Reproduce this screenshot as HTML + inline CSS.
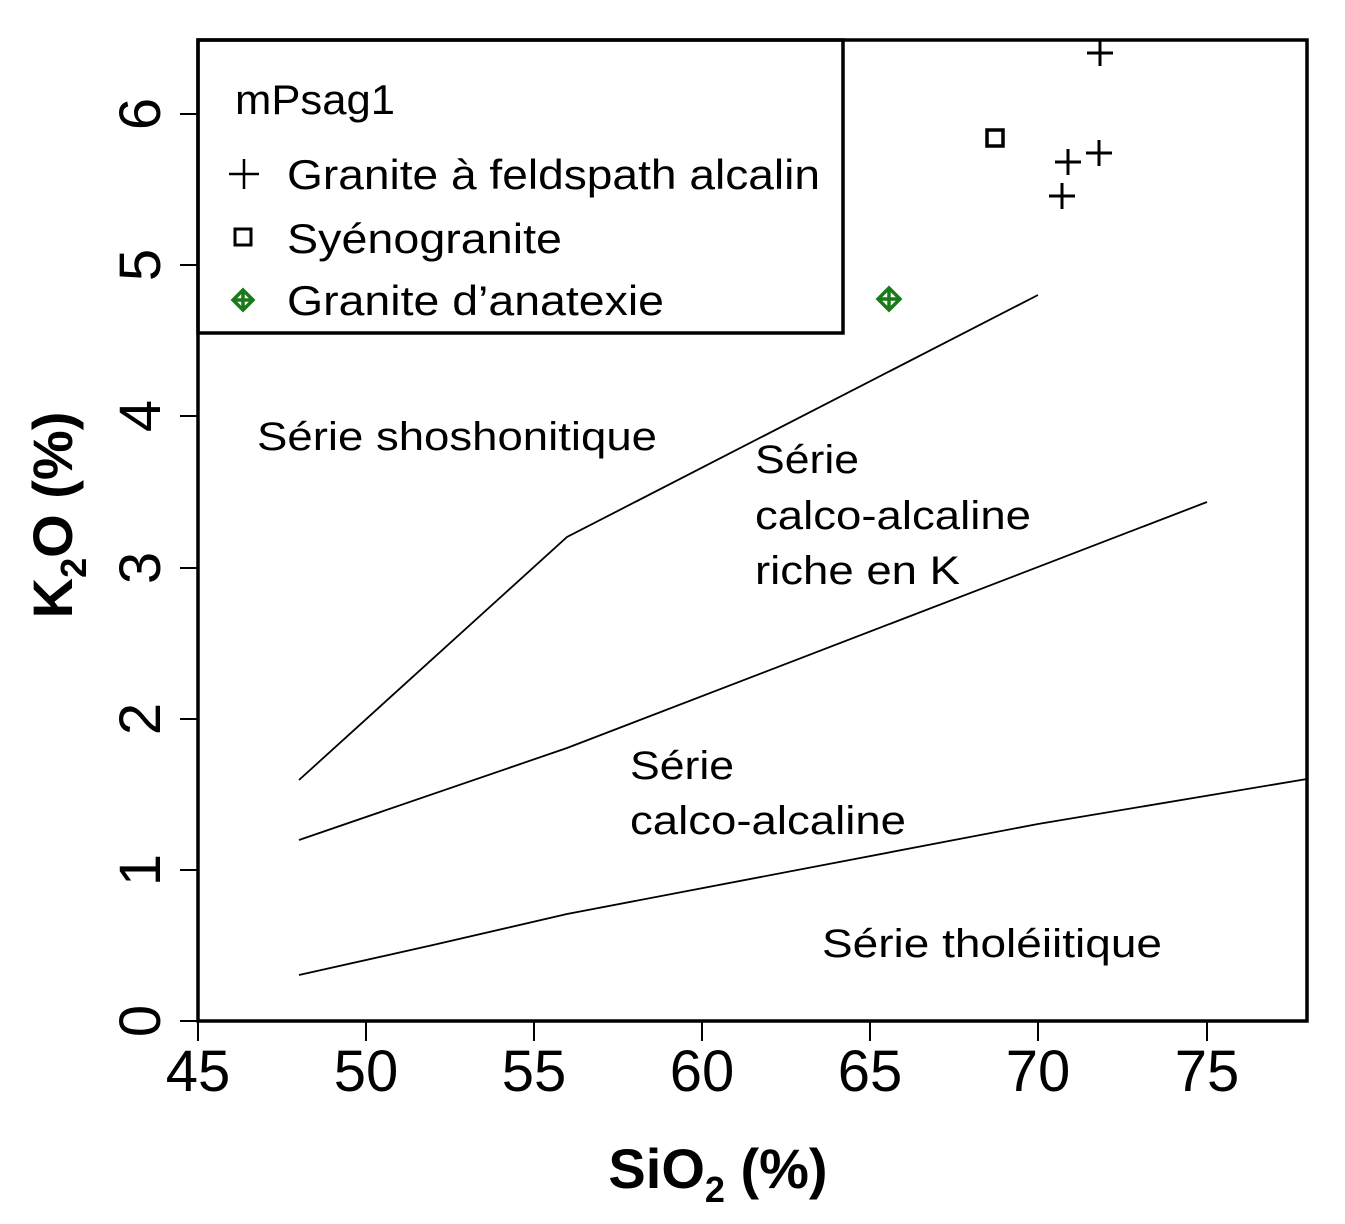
<!DOCTYPE html>
<html><head><meta charset="utf-8"><style>
html,body{margin:0;padding:0;background:#fff;}
svg{display:block;}
text{font-family:"Liberation Sans",Arial,sans-serif;fill:#000;}
</style></head><body>
<svg width="1345" height="1224" viewBox="0 0 1345 1224" xmlns="http://www.w3.org/2000/svg">
<rect x="198" y="40" width="1109" height="981" fill="none" stroke="#000" stroke-width="3.5"/>
<g stroke="#000" stroke-width="2">
<line x1="198" y1="1021" x2="198" y2="1041"/><line x1="366" y1="1021" x2="366" y2="1041"/>
<line x1="534" y1="1021" x2="534" y2="1041"/><line x1="702" y1="1021" x2="702" y2="1041"/>
<line x1="870" y1="1021" x2="870" y2="1041"/><line x1="1038" y1="1021" x2="1038" y2="1041"/>
<line x1="1207" y1="1021" x2="1207" y2="1041"/>
<line x1="180" y1="1021" x2="198" y2="1021"/><line x1="180" y1="870" x2="198" y2="870"/>
<line x1="180" y1="719" x2="198" y2="719"/><line x1="180" y1="568" x2="198" y2="568"/>
<line x1="180" y1="416" x2="198" y2="416"/><line x1="180" y1="265" x2="198" y2="265"/>
<line x1="180" y1="114" x2="198" y2="114"/>
</g>
<g font-size="58" text-anchor="middle">
<text x="198" y="1091">45</text><text x="366" y="1091">50</text><text x="534" y="1091">55</text>
<text x="702" y="1091">60</text><text x="870" y="1091">65</text><text x="1038" y="1091">70</text>
<text x="1207" y="1091">75</text>
</g>
<g font-size="58" text-anchor="middle">
<text transform="translate(160,1021) rotate(-90)">0</text>
<text transform="translate(160,870) rotate(-90)">1</text>
<text transform="translate(160,719) rotate(-90)">2</text>
<text transform="translate(160,568) rotate(-90)">3</text>
<text transform="translate(160,416) rotate(-90)">4</text>
<text transform="translate(160,265) rotate(-90)">5</text>
<text transform="translate(160,114) rotate(-90)">6</text>
</g>
<text x="718" y="1188" font-size="56" font-weight="bold" text-anchor="middle">SiO<tspan font-size="36" dy="14">2</tspan><tspan dy="-14"> (%)</tspan></text>
<text transform="translate(72,515) rotate(-90)" font-size="56" font-weight="bold" text-anchor="middle">K<tspan font-size="36" dy="14">2</tspan><tspan dy="-14">O (%)</tspan></text>
<g fill="none" stroke="#000" stroke-width="1.8">
<polyline points="299,780 567,537 1038,295"/>
<polyline points="299,840 567,748 1207,502"/>
<polyline points="299,975 433,945 567,914 1038,824 1307,779"/>
</g>
<g font-size="40" lengthAdjust="spacingAndGlyphs">
<text x="257" y="450" textLength="400" lengthAdjust="spacingAndGlyphs">Série shoshonitique</text>
<text x="755" y="473" textLength="104" lengthAdjust="spacingAndGlyphs">Série</text>
<text x="755" y="529" textLength="276" lengthAdjust="spacingAndGlyphs">calco-alcaline</text>
<text x="755" y="584" textLength="205" lengthAdjust="spacingAndGlyphs">riche en K</text>
<text x="630" y="779" textLength="104" lengthAdjust="spacingAndGlyphs">Série</text>
<text x="630" y="834" textLength="276" lengthAdjust="spacingAndGlyphs">calco-alcaline</text>
<text x="822" y="957" textLength="340" lengthAdjust="spacingAndGlyphs">Série tholéiitique</text>
</g>
<g stroke="#000" stroke-width="3" fill="none">
<path d="M1087,53h26M1100,40v26"/>
<path d="M1055,162h26M1068,149v26"/>
<path d="M1086,153h26M1099,140v26"/>
<path d="M1049,196h26M1062,183v26"/>
<rect x="987" y="130" width="16" height="16" stroke-width="3.5"/>
<rect x="235" y="229" width="16" height="16" stroke-width="3"/>
<path d="M229,174h30M244,159v30" stroke-width="2.5"/>
</g>
<g stroke="#1a7a1a" stroke-width="3.5" fill="none">
<path d="M889,288 L900,299 L889,310 L878,299Z M889,288V310M878,299H900"/>
<path d="M243,290 L253,300 L243,310 L233,300Z M243,290V310M233,300H253"/>
</g>
<rect x="198" y="40" width="645" height="293" fill="none" stroke="#000" stroke-width="3.5"/>
<g font-size="42">
<text x="235" y="114" textLength="160" lengthAdjust="spacingAndGlyphs">mPsag1</text>
<text x="287" y="189" textLength="533" lengthAdjust="spacingAndGlyphs">Granite à feldspath alcalin</text>
<text x="287" y="253" textLength="275" lengthAdjust="spacingAndGlyphs">Syénogranite</text>
<text x="287" y="315" textLength="377" lengthAdjust="spacingAndGlyphs">Granite d’anatexie</text>
</g>
</svg>
</body></html>
